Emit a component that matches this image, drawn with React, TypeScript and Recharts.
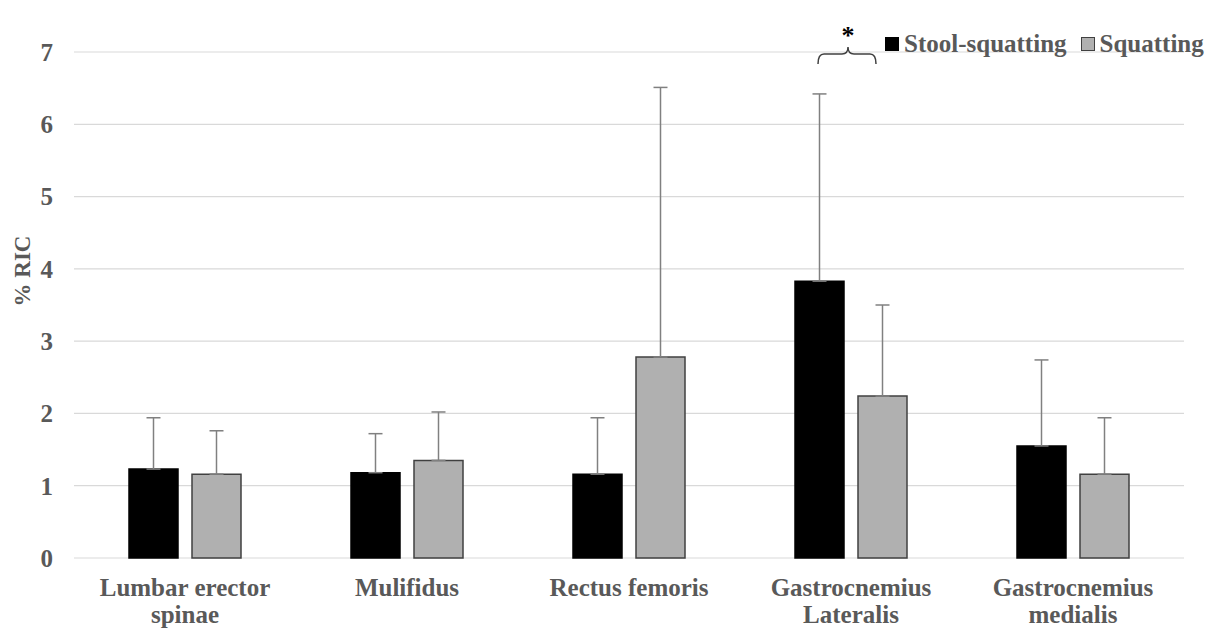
import React from "react";
import {
  BarChart,
  Bar,
  XAxis,
  YAxis,
  CartesianGrid,
  ErrorBar,
  Legend,
} from "recharts";

// Muscles on the x axis; "\n" marks where the label wraps
const muscles = [
  "Lumbar erector\nspinae",
  "Mulifidus",
  "Rectus femoris",
  "Gastrocnemius\nLateralis",
  "Gastrocnemius\nmedialis",
];

// mean %RIC and standard deviation for each posture
const stoolMean = [1.23, 1.18, 1.16, 3.83, 1.55];
const stoolSd = [0.71, 0.54, 0.78, 2.59, 1.19];
const squatMean = [1.16, 1.35, 2.78, 2.24, 1.16];
const squatSd = [0.6, 0.67, 3.73, 1.26, 0.78];

const yTicks = [0, 1, 2, 3, 4, 5, 6, 7];

const seriesNames = ["Stool-squatting", "Squatting"];

const data = muscles.map((name, i) => ({
  name,
  stool: stoolMean[i],
  stoolErr: [0, stoolSd[i]],
  squat: squatMean[i],
  squatErr: [0, squatSd[i]],
}));

const FONT = "'Liberation Serif', 'Times New Roman', serif";
const TEXT = "#595959";

const MuscleTick = (props: any) => {
  const { x, y, payload } = props;
  const lines = String(payload.value).split("\n");
  return (
    <text
      x={x}
      y={y}
      textAnchor="middle"
      fontFamily={FONT}
      fontWeight="bold"
      fontSize={25}
      fill={TEXT}
    >
      {lines.map((l, i) => (
        <tspan key={i} x={x} dy={i === 0 ? 38 : 27}>
          {l}
        </tspan>
      ))}
    </text>
  );
};

const PostureLegend = () => (
  <div
    style={{
      display: "flex",
      alignItems: "center",
      fontFamily: FONT,
      fontWeight: "bold",
      fontSize: 25,
      color: TEXT,
      whiteSpace: "nowrap",
    }}
  >
    <span
      style={{
        width: 12,
        height: 12,
        background: "#000",
        border: "1px solid #000",
        marginRight: 5,
      }}
    />
    <span style={{ marginRight: 14 }}>{seriesNames[0]}</span>
    <span
      style={{
        width: 12,
        height: 12,
        background: "#b0b0b0",
        border: "1px solid #404040",
        marginRight: 5,
      }}
    />
    <span>{seriesNames[1]}</span>
  </div>
);

export default function App() {
  return (
    <div style={{ position: "absolute", left: 0, top: 0, width: 1211, height: 628, background: "#fff" }}>
      <BarChart
        width={1211}
        height={628}
        data={data}
        margin={{ top: 24, right: 27, left: 0, bottom: 0 }}
        barSize={49}
        barGap={14}
      >
        <CartesianGrid vertical={false} stroke="#d9d9d9" strokeWidth={1.2} />
        <XAxis
          dataKey="name"
          axisLine={false}
          tickLine={false}
          tickSize={0}
          tickMargin={0}
          height={70}
          interval={0}
          tick={<MuscleTick />}
        />
        <YAxis
          width={74}
          domain={[0, 7]}
          ticks={yTicks}
          axisLine={false}
          tickLine={false}
          tickMargin={15}
          tick={{ fontFamily: FONT, fontWeight: "bold", fontSize: 25, fill: TEXT }}
          label={{
            content: () => (
              <text
                x={30}
                y={271}
                transform="rotate(-90 30 271)"
                textAnchor="middle"
                fontFamily={FONT}
                fontWeight="bold"
                fontSize={23}
                fill={TEXT}
              >
                % RIC
              </text>
            ),
          }}
        />
        <Legend
          verticalAlign="top"
          align="right"
          content={<PostureLegend />}
          wrapperStyle={{ position: "absolute", left: 885, top: 30, width: "auto" }}
        />
        <Bar dataKey="stool" name={seriesNames[0]} fill="#000" stroke="#000" strokeWidth={1.5} isAnimationActive={false}>
          <ErrorBar dataKey="stoolErr" direction="y" width={7} stroke="#808080" strokeWidth={1.5} />
        </Bar>
        <Bar dataKey="squat" name={seriesNames[1]} fill="#b0b0b0" stroke="#404040" strokeWidth={1.5} isAnimationActive={false}>
          <ErrorBar dataKey="squatErr" direction="y" width={7} stroke="#808080" strokeWidth={1.5} />
        </Bar>
      </BarChart>
      {/* significance bracket over the Gastrocnemius Lateralis pair */}
      <svg
        width={1211}
        height={628}
        style={{ position: "absolute", left: 0, top: 0, pointerEvents: "none" }}
      >
        <path
          d="M818,64 Q818,54 824,54 L842,54 Q848,54 848,47 Q848,54 854,54 L870,54 Q876,54 876,64"
          fill="none"
          stroke="#404040"
          strokeWidth={1.5}
        />
        <text x={848} y={44} textAnchor="middle" fontFamily={FONT} fontWeight="bold" fontSize={26} fill="#000">
          *
        </text>
      </svg>
    </div>
  );
}
